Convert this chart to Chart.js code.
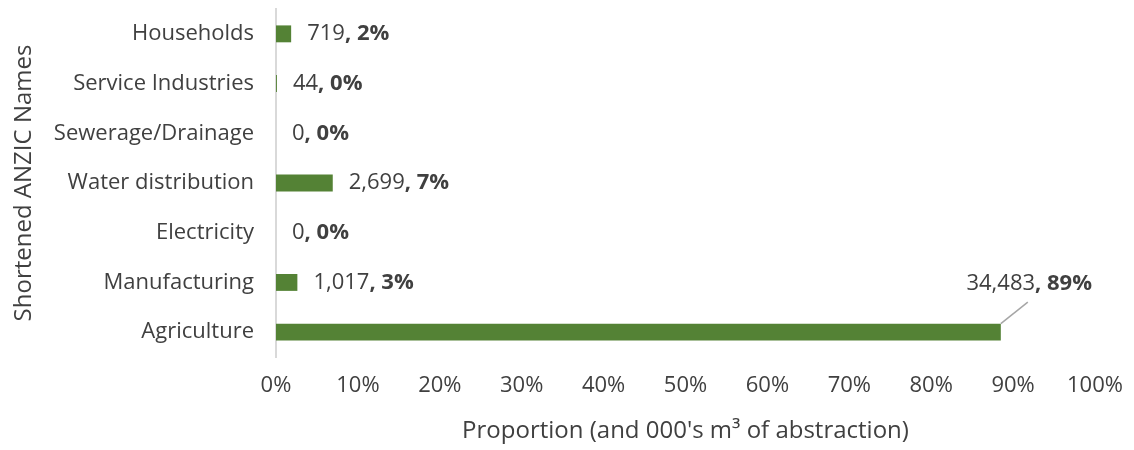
<!DOCTYPE html>
<html>
<head>
<meta charset="utf-8">
<script src="https://cdn.jsdelivr.net/npm/chart.js@4/dist/chart.umd.min.js"></script>
<style>
  html, body { margin: 0; padding: 0; background: #ffffff; }
  #wrap { width: 1134px; height: 450px; }
</style>
</head>
<body>
<div id="wrap"><canvas id="chart" width="1134" height="450"></canvas></div>
<script>
// Water abstraction by shortened ANZIC sector
const categories = ['Households', 'Service Industries', 'Sewerage/Drainage', 'Water distribution', 'Electricity', 'Manufacturing', 'Agriculture'];
const volumes = [719, 44, 0, 2699, 0, 1017, 34483];          // 000's m³
const shares = [0.0185, 0.0011, 0, 0.0693, 0, 0.0261, 0.885]; // proportion of total
const xTicks = [0, 0.1, 0.2, 0.3, 0.4, 0.5, 0.6, 0.7, 0.8, 0.9, 1];

const FONT = "'Open Sans', sans-serif";
const TEXT = '#404040';
const BAR = '#548235';

// Value labels: "volume" in regular weight followed by ", pct%" in bold
const valueLabels = {
  id: 'valueLabels',
  afterDatasetsDraw(chart) {
    const { ctx, chartArea } = chart;
    const meta = chart.getDatasetMeta(0);
    ctx.save();
    ctx.textBaseline = 'middle';
    ctx.fillStyle = TEXT;
    meta.data.forEach((bar, i) => {
      const first = volumes[i].toLocaleString('en-US');
      const second = ', ' + Math.round(shares[i] * 100) + '%';
      const regular = '22px ' + FONT;
      const bold = 'bold 22px ' + FONT;
      ctx.font = regular;
      const w1 = ctx.measureText(first).width;
      ctx.font = bold;
      const w2 = ctx.measureText(second).width;
      let x = bar.x + 16;
      let y = bar.y;
      if (x + w1 + w2 > chartArea.right) {
        // callout above the bar with a leader line
        const tx = chartArea.right - 3 - w1 - w2;
        const ty = bar.y - 48;
        ctx.strokeStyle = '#a6a6a6';
        ctx.lineWidth = 1.5;
        ctx.beginPath();
        ctx.moveTo(bar.x, bar.y - bar.height / 2);
        ctx.lineTo(bar.x + 27, ty + 18);
        ctx.stroke();
        x = tx;
        y = ty;
      }
      ctx.textAlign = 'left';
      ctx.font = regular;
      ctx.fillText(first, x, y);
      ctx.font = bold;
      ctx.fillText(second, x + w1, y);
    });
    ctx.restore();
  }
};

new Chart(document.getElementById('chart'), {
  type: 'bar',
  data: {
    labels: categories,
    datasets: [{
      data: shares,
      backgroundColor: BAR,
      borderWidth: 0,
      barPercentage: 0.34,
      categoryPercentage: 1
    }]
  },
  options: {
    indexAxis: 'y',
    responsive: false,
    animation: false,
    layout: { padding: { top: 9, right: 39, left: 0, bottom: 0 } },
    plugins: {
      legend: { display: false },
      tooltip: { enabled: false }
    },
    scales: {
      x: {
        min: 0,
        max: 1,
        afterBuildTicks(scale) { scale.ticks = xTicks.map(v => ({ value: v })); },
        afterFit(scale) {
          scale.height = 93;
          scale.paddingLeft = 0;
          scale.paddingRight = 0;
        },
        grid: { display: false },
        border: { display: false },
        ticks: {
          padding: 8,
          color: TEXT,
          font: { family: FONT, size: 22 },
          maxRotation: 0,
          callback: v => Math.round(v * 100) + '%'
        },
        title: {
          display: true,
          text: "Proportion (and 000's m³ of abstraction)",
          color: TEXT,
          font: { family: FONT, size: 24 },
          padding: { top: 0, bottom: 4 }
        }
      },
      y: {
        afterFit(scale) {
          scale.width = 276;
          scale.paddingTop = 0;
          scale.paddingBottom = 0;
        },
        grid: { display: false },
        border: { display: true, color: '#d9d9d9', width: 2 },
        ticks: {
          padding: 14,
          color: TEXT,
          font: { family: FONT, size: 22 }
        },
        title: {
          display: true,
          text: 'Shortened ANZIC Names',
          color: TEXT,
          font: { family: FONT, size: 24 },
          padding: { top: 10, bottom: 0 }
        }
      }
    }
  },
  plugins: [valueLabels]
});
</script>
</body>
</html>
